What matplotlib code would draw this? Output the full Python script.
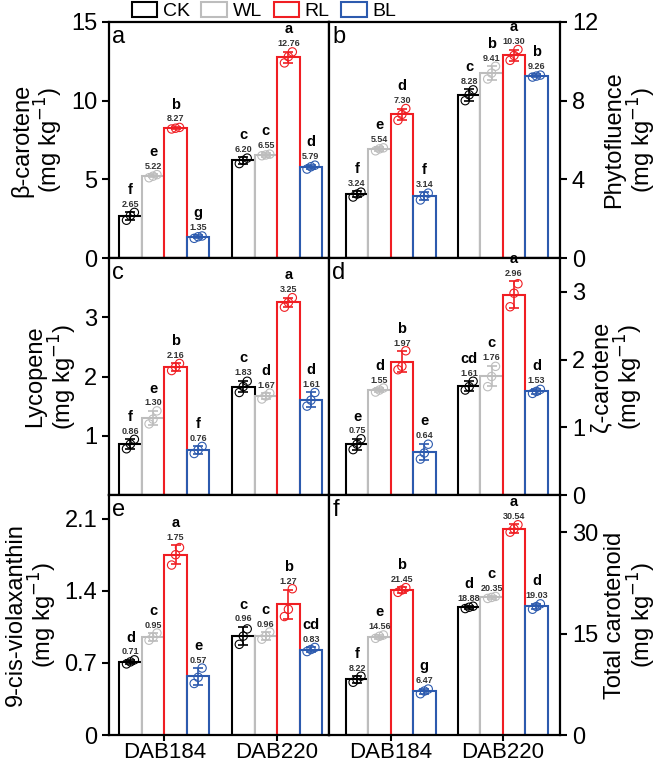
import numpy as np
import matplotlib.pyplot as plt
from matplotlib.patches import Patch

plt.rcParams['font.family'] = ['Liberation Sans', 'DejaVu Sans']

cultivars = ["DAB184", "DAB220"]
treatments = ["CK", "WL", "RL", "BL"]
colors = ["#000000", "#BDBDBD", "#F01E23", "#2C5AAE"]

# order: DAB184 CK, WL, RL, BL, DAB220 CK, WL, RL, BL
mean_a = [2.65, 5.22, 8.27, 1.35, 6.20, 6.55, 12.76, 5.79]
sd_a = [0.25, 0.10, 0.06, 0.10, 0.20, 0.10, 0.35, 0.15]
let_a = ["f", "e", "b", "g", "c", "c", "a", "d"]
pts_a = [[2.4, 2.7, 2.9], [5.1, 5.2, 5.3], [8.2, 8.25, 8.3], [1.25, 1.35, 1.4],
         [6.0, 6.2, 6.35], [6.5, 6.55, 6.6], [12.4, 12.8, 13.1], [5.65, 5.8, 5.9]]

mean_b = [3.24, 5.54, 7.30, 3.14, 8.28, 9.41, 10.30, 9.26]
sd_b = [0.15, 0.10, 0.30, 0.20, 0.30, 0.35, 0.30, 0.08]
let_b = ["f", "e", "d", "f", "c", "b", "a", "b"]
pts_b = [[3.1, 3.25, 3.35], [5.45, 5.55, 5.6], [7.0, 7.3, 7.6], [2.95, 3.15, 3.3],
         [8.0, 8.3, 8.55], [9.1, 9.4, 9.75], [10.05, 10.3, 10.6], [9.2, 9.25, 9.3]]

mean_c = [0.86, 1.30, 2.16, 0.76, 1.83, 1.67, 3.25, 1.61]
sd_c = [0.08, 0.12, 0.06, 0.06, 0.10, 0.05, 0.08, 0.12]
let_c = ["f", "e", "b", "f", "c", "d", "a", "d"]
pts_c = [[0.78, 0.86, 0.94], [1.2, 1.28, 1.42], [2.1, 2.16, 2.22], [0.7, 0.76, 0.82],
         [1.73, 1.83, 1.92], [1.62, 1.67, 1.72], [3.17, 3.25, 3.33], [1.5, 1.6, 1.73]]

mean_d = [0.75, 1.55, 1.97, 0.64, 1.61, 1.76, 2.96, 1.53]
sd_d = [0.08, 0.03, 0.15, 0.12, 0.07, 0.15, 0.20, 0.04]
let_d = ["e", "d", "b", "e", "cd", "c", "a", "d"]
pts_d = [[0.67, 0.75, 0.83], [1.52, 1.55, 1.58], [1.85, 1.9, 2.13], [0.53, 0.62, 0.75],
         [1.55, 1.6, 1.68], [1.6, 1.75, 1.9], [2.78, 2.98, 3.12], [1.5, 1.53, 1.56]]

mean_e = [0.71, 0.95, 1.75, 0.57, 0.96, 0.96, 1.27, 0.83]
sd_e = [0.02, 0.04, 0.09, 0.08, 0.09, 0.04, 0.14, 0.02]
let_e = ["d", "c", "a", "e", "c", "c", "b", "cd"]
pts_e = [[0.69, 0.71, 0.73], [0.92, 0.95, 0.99], [1.65, 1.75, 1.82], [0.5, 0.56, 0.65],
         [0.88, 0.96, 1.03], [0.93, 0.96, 1.0], [1.15, 1.22, 1.42], [0.81, 0.83, 0.85]]

mean_f = [8.22, 14.56, 21.45, 6.47, 18.88, 20.35, 30.54, 19.03]
sd_f = [0.5, 0.3, 0.4, 0.4, 0.2, 0.2, 0.6, 0.4]
let_f = ["f", "e", "b", "g", "d", "c", "a", "d"]
pts_f = [[7.8, 8.2, 8.7], [14.3, 14.6, 14.8], [21.1, 21.45, 21.8], [6.1, 6.5, 6.8],
         [18.7, 18.9, 19.05], [20.2, 20.35, 20.5], [30.0, 30.5, 31.1], [18.6, 19.0, 19.4]]

ylabels = ["β-carotene\n(mg kg$^{-1}$)", "Phytofluence\n(mg kg$^{-1}$)",
           "Lycopene\n(mg kg$^{-1}$)", "ζ-carotene\n(mg kg$^{-1}$)",
           "9-cis-violaxanthin\n(mg kg$^{-1}$)", "Total carotenoid\n(mg kg$^{-1}$)"]
ylims = [15, 12, 4, 3.5, 2.33, 35.5]
yticks = [[0, 5, 10, 15], [0, 4, 8, 12], [1, 2, 3], [0, 1, 2, 3],
          [0, 0.7, 1.4, 2.1], [0, 15, 30]]
ytlabels = [["0", "5", "10", "15"], ["0", "4", "8", "12"], ["1", "2", "3"],
            ["0", "1", "2", "3"], ["0", "0.7", "1.4", "2.1"], ["0", "15", "30"]]
panels = ["a", "b", "c", "d", "e", "f"]
means = [mean_a, mean_b, mean_c, mean_d, mean_e, mean_f]
sds = [sd_a, sd_b, sd_c, sd_d, sd_e, sd_f]
lets = [let_a, let_b, let_c, let_d, let_e, let_f]
pts = [pts_a, pts_b, pts_c, pts_d, pts_e, pts_f]

fig = plt.figure(figsize=(6.62, 7.67), dpi=100)

W, H = 662, 767
cols = [(109, 329), (329, 560)]
rows = [(22, 258), (258, 495), (495, 735)]
xlims = [(-0.49, 1.46), (-0.55, 1.51)]
bw = 0.2
offs = [-0.3, -0.1, 0.1, 0.3]
jit = [-0.035, 0.0, 0.035]

for k in range(6):
    r, c = k // 2, k % 2
    x0, x1 = cols[c]
    y0, y1 = rows[r]
    ax = fig.add_axes([x0 / W, 1 - y1 / H, (x1 - x0) / W, (y1 - y0) / H])
    for s in ax.spines.values():
        s.set_linewidth(1.6)
    for g in range(2):
        for t in range(4):
            i = g * 4 + t
            x = g + offs[t]
            m = means[k][i]
            sd = sds[k][i]
            col = colors[t]
            ax.bar(x, m, width=bw, facecolor="white", edgecolor=col, linewidth=1.5, zorder=2)
            ax.errorbar(x, m, yerr=sd, color=col, capsize=3.5, elinewidth=1.2,
                        capthick=1.2, zorder=3)
            ax.scatter([x + j for j in jit], pts[k][i], s=36, facecolors="none",
                       edgecolors=col, linewidths=0.8, zorder=4)
            top = m + sd
            ax.annotate(f"{m:.2f}", (x, top), xytext=(0, 2.5), textcoords="offset points",
                        ha="center", va="bottom", fontsize=6.5, fontweight="bold",
                        color="#333333")
            ax.annotate(lets[k][i], (x, top), xytext=(0, 11), textcoords="offset points",
                        ha="center", va="bottom", fontsize=10.5, fontweight="bold")
    ax.set_xlim(*xlims[c])
    ax.set_ylim(0, ylims[k])
    ax.set_yticks(yticks[k])
    ax.set_yticklabels(ytlabels[k])
    ax.tick_params(axis="y", labelsize=17, width=1.5, length=5, direction="out")
    ax.tick_params(axis="x", labelsize=16, width=1.5, length=4, pad=1, direction="out")
    if r == 2:
        ax.set_xticks([0, 1])
        ax.set_xticklabels(cultivars)
    else:
        ax.set_xticks([])
    if c == 1:
        ax.yaxis.tick_right()
        ax.yaxis.set_label_position("right")
    ax.set_ylabel(ylabels[k], fontsize=17, linespacing=1.0)
    ax.text(0.015, 0.985, panels[k], transform=ax.transAxes, ha="left", va="top",
            fontsize=17)

handles = [Patch(facecolor="white", edgecolor=colors[t], linewidth=1.5) for t in range(4)]
fig.legend(handles, treatments, loc="center", bbox_to_anchor=(264 / W, 1 - 11 / H),
           ncol=4, frameon=False, fontsize=14, handlelength=1.3, handleheight=0.8,
           handletextpad=0.3, columnspacing=0.6, borderpad=0)

fig.savefig("out.png", dpi=100)
